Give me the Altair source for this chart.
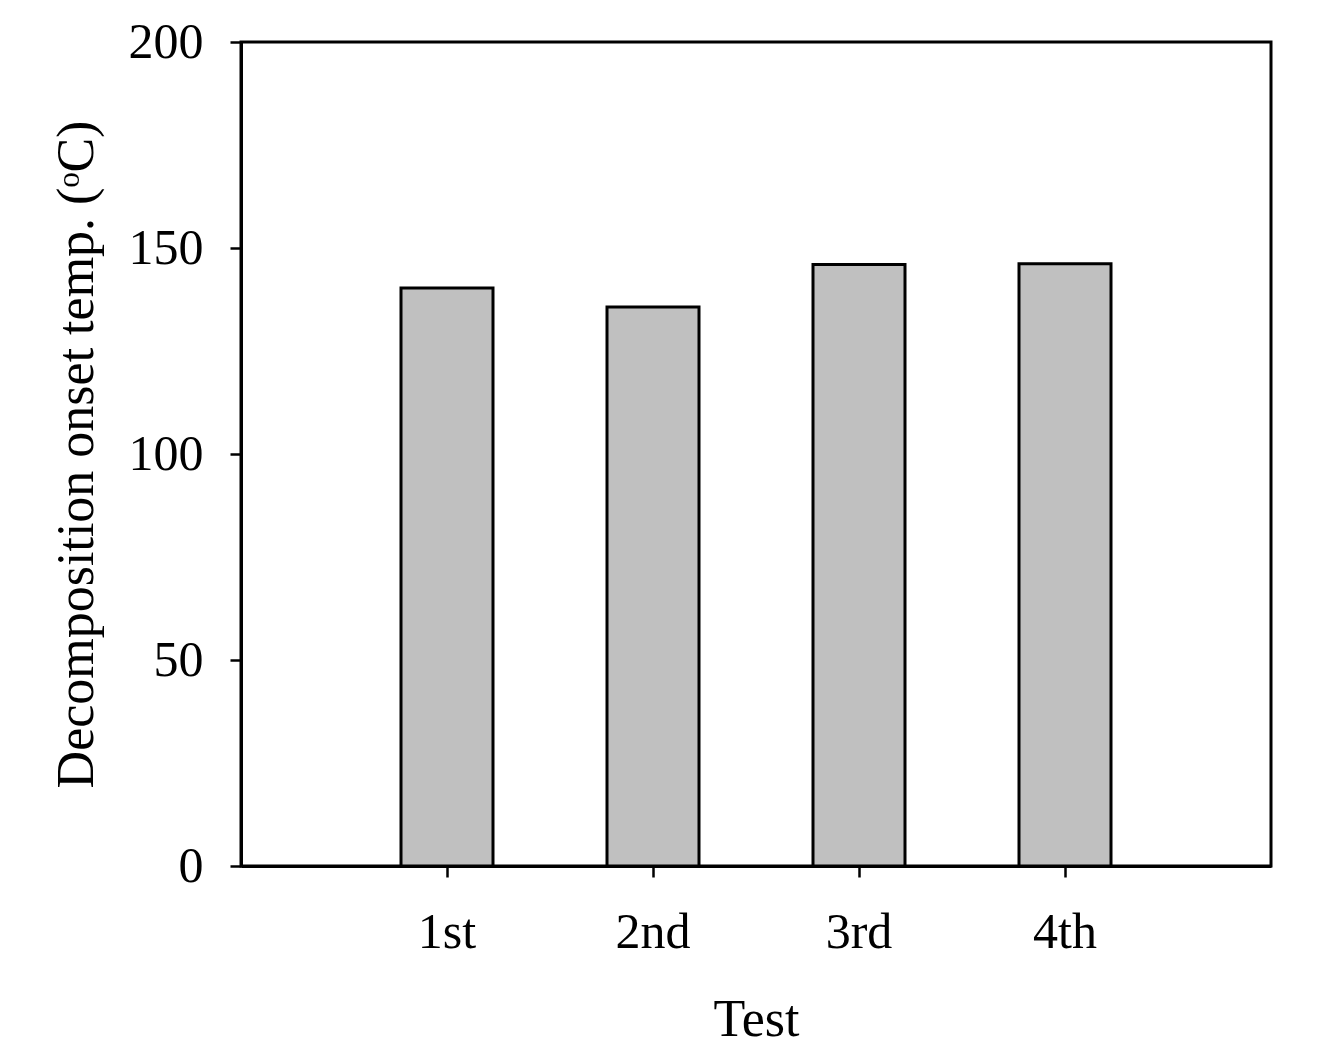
import altair as alt
import pandas as pd

tests = ["1st", "2nd", "3rd", "4th"]
onset_temp = [140.3, 135.7, 146.0, 146.2]
y_ticks = [0, 50, 100, 150, 200]

df = pd.DataFrame({"Test": tests, "Temp": onset_temp})

FONT = "Liberation Serif"

chart = alt.Chart(df).mark_bar(
    size=92, fill="#C0C0C0", stroke="black", strokeWidth=3
).encode(
    x=alt.X(
        "Test:N",
        sort=tests,
        scale=alt.Scale(paddingInner=0, paddingOuter=0.5),
        axis=alt.Axis(
            title="Test",
            labelAngle=0,
            labelFont=FONT, labelFontSize=50, labelColor="black",
            labelPadding=30,
            titleFont=FONT, titleFontSize=52, titleFontWeight="normal", titleColor="black",
            titleBaseline="alphabetic", titleX=515, titleY=169,
            domainColor="black", domainWidth=3,
            tickColor="black", tickWidth=2.5, tickSize=11,
        ),
    ),
    y=alt.Y(
        "Temp:Q",
        scale=alt.Scale(domain=[0, 200], nice=False),
        axis=alt.Axis(
            title="Decomposition onset temp. (ᵒC)",
            values=y_ticks,
            grid=False,
            labelFont=FONT, labelFontSize=50, labelColor="black",
            labelPadding=27,
            titleFont=FONT, titleFontSize=52, titleFontWeight="normal", titleColor="black",
            titleAngle=270, titleBaseline="alphabetic", titleX=-149, titleY=412,
            titleAlign="center",
            domainColor="black", domainWidth=3,
            tickColor="black", tickWidth=2.5, tickSize=11,
        ),
    ),
).properties(
    width=1030,
    height=824,
    autosize=alt.AutoSizeParams(type="none"),
    padding={"left": 233, "top": 34, "right": 30, "bottom": 180},
).configure_view(
    stroke="black", strokeWidth=3
).configure_axis(
    grid=False
)

chart.save("out.html", embed_options={"renderer": "svg", "actions": False})
